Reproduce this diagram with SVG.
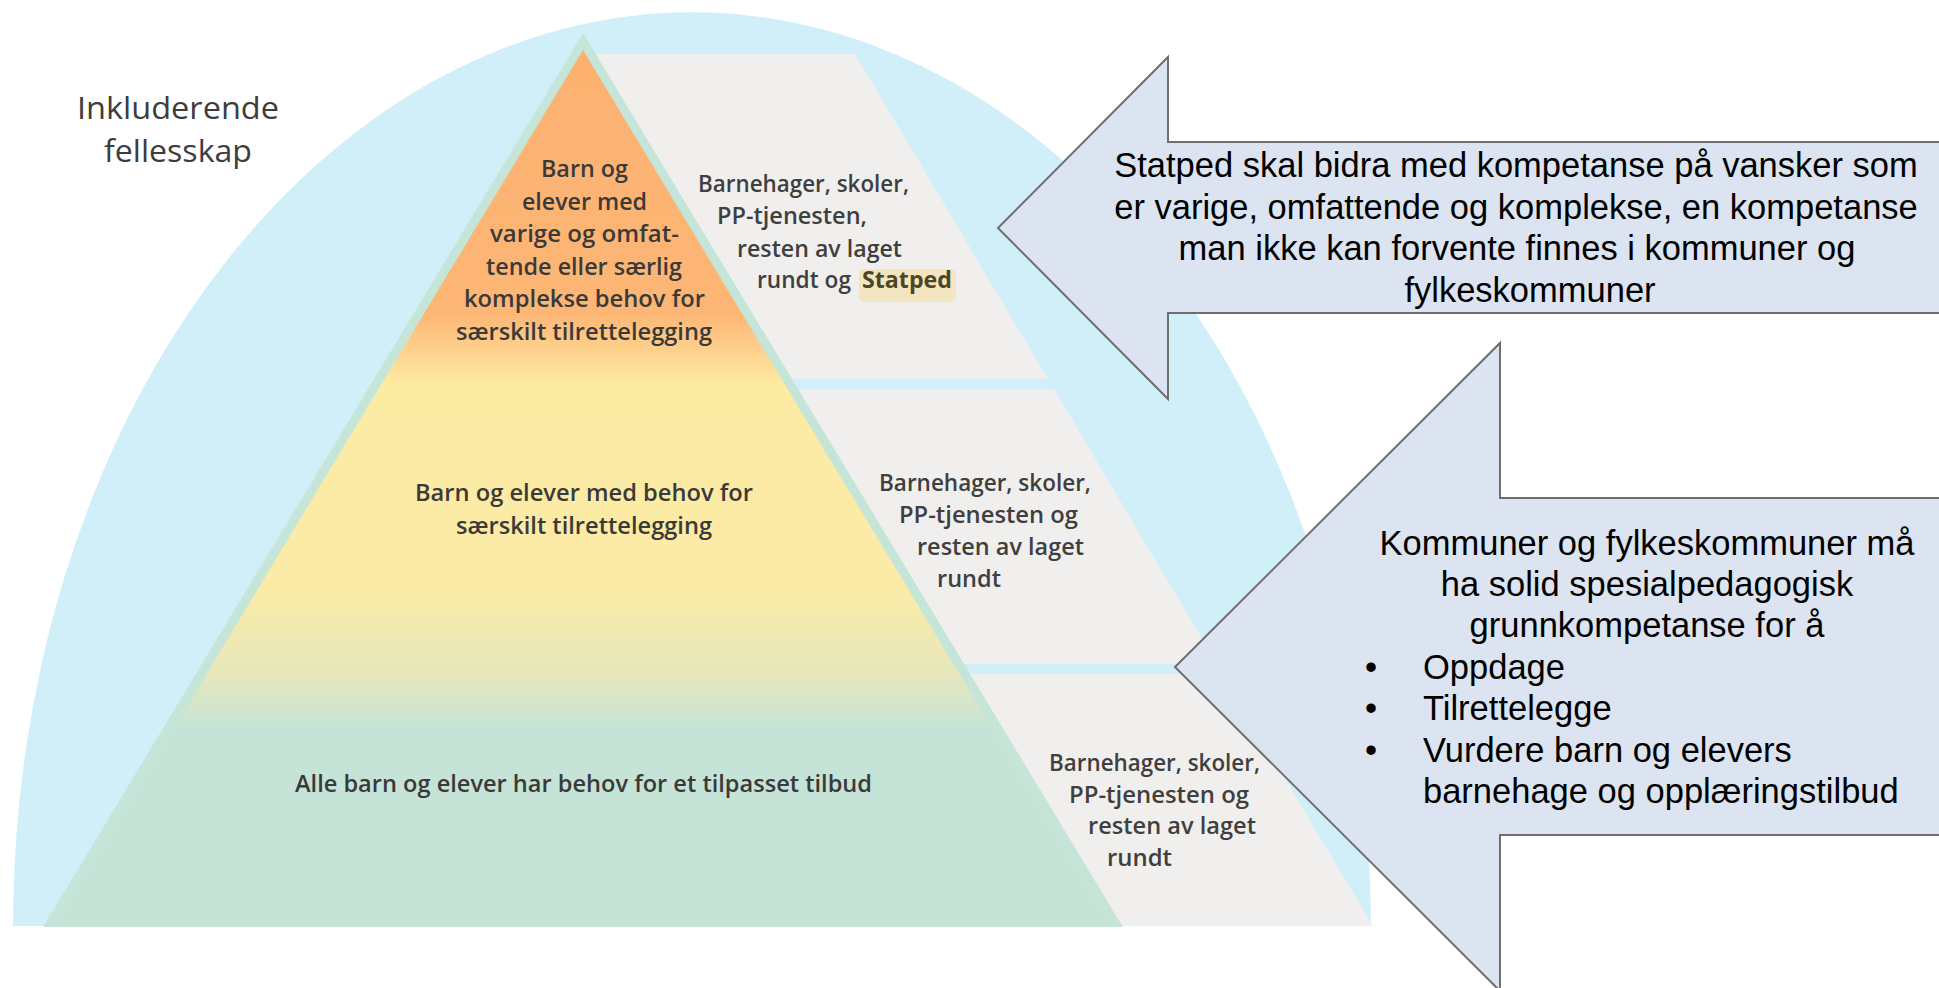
<svg xmlns="http://www.w3.org/2000/svg" width="1939" height="988" viewBox="0 0 1939 988">
<defs>
<linearGradient id="pyrGrad" gradientUnits="userSpaceOnUse" x1="0" y1="50" x2="0" y2="927">
<stop offset="0" stop-color="#fcb171"/>
<stop offset="0.30" stop-color="#fdb675"/>
<stop offset="0.336" stop-color="#fdcd89"/>
<stop offset="0.382" stop-color="#fdeba3"/>
<stop offset="0.616" stop-color="#fbeba7"/>
<stop offset="0.707" stop-color="#e8e7ba"/>
<stop offset="0.775" stop-color="#c5e4d7"/>
<stop offset="1" stop-color="#c5e4d7"/>
</linearGradient>
<style>
.pt{font-family:"Open Sans","Liberation Sans",sans-serif;font-weight:600;font-size:23px;fill:#3a3a3a}
.ct{font-family:"Open Sans","Liberation Sans",sans-serif;font-weight:600;font-size:23px;fill:#3f3f3f}
.title{font-family:"Open Sans","Liberation Sans",sans-serif;font-weight:400;font-size:31px;fill:#3d3d3d}
.at{font-family:"Liberation Sans",Arial,sans-serif;font-size:34.5px;fill:#000}
.gray{fill:#f0efee}
.arrow{fill:#dbe4f0;stroke:#6e6e6e;stroke-width:2}
</style>
</defs>
<rect width="1939" height="988" fill="#ffffff"/>
<g id="background">
<path d="M13,926 A679,914 0 0 1 1371,926 Z" fill="#d0eff9"/>
</g>
<g id="column-top">
<polygon class="gray" points="585,54 855,54 1048,379 785,379"/>
<text class="ct" x="698" y="192" textLength="211" lengthAdjust="spacingAndGlyphs">Barnehager, skoler,</text>
<text class="ct" x="717" y="224" textLength="150" lengthAdjust="spacingAndGlyphs">PP-tjenesten,</text>
<text class="ct" x="737" y="257" textLength="165" lengthAdjust="spacingAndGlyphs">resten av laget</text>
<rect x="859" y="269" width="97" height="33" rx="5" fill="#f3e5bf"/>
<text class="ct" x="757" y="288" textLength="94" lengthAdjust="spacingAndGlyphs">rundt og</text>
<text class="ct" x="862" y="288" textLength="90" lengthAdjust="spacingAndGlyphs" style="font-weight:700;fill:#4d4528">Statped</text>
</g>
<g id="column-middle">
<polygon class="gray" points="790,389 1054,389 1217,664 960,664"/>
<text class="ct" x="879" y="491" textLength="212" lengthAdjust="spacingAndGlyphs">Barnehager, skoler,</text>
<text class="ct" x="899" y="523" textLength="179" lengthAdjust="spacingAndGlyphs">PP-tjenesten og</text>
<text class="ct" x="917" y="555" textLength="167" lengthAdjust="spacingAndGlyphs">resten av laget</text>
<text class="ct" x="937" y="587" textLength="64" lengthAdjust="spacingAndGlyphs">rundt</text>
</g>
<g id="column-bottom">
<polygon class="gray" points="960,674 1223,674 1373,926 1110,926"/>
<text class="ct" x="1049" y="771" textLength="211" lengthAdjust="spacingAndGlyphs">Barnehager, skoler,</text>
<text class="ct" x="1069" y="803" textLength="180" lengthAdjust="spacingAndGlyphs">PP-tjenesten og</text>
<text class="ct" x="1088" y="834" textLength="168" lengthAdjust="spacingAndGlyphs">resten av laget</text>
<text class="ct" x="1107" y="866" textLength="65" lengthAdjust="spacingAndGlyphs">rundt</text>
</g>
<g id="pyramid">
<polygon points="583,33 43,927 1123,927" fill="#c6e5d9"/>
<polygon points="583,50 54,927 1112,927" fill="url(#pyrGrad)"/>
<g id="pyramid-top">
<text class="pt" x="541" y="177" textLength="87" lengthAdjust="spacingAndGlyphs">Barn og</text>
<text class="pt" x="522" y="210" textLength="125" lengthAdjust="spacingAndGlyphs">elever med</text>
<text class="pt" x="490" y="242" textLength="189" lengthAdjust="spacingAndGlyphs">varige og omfat-</text>
<text class="pt" x="486" y="275" textLength="196" lengthAdjust="spacingAndGlyphs">tende eller særlig</text>
<text class="pt" x="464" y="307" textLength="241" lengthAdjust="spacingAndGlyphs">komplekse behov for</text>
<text class="pt" x="456" y="340" textLength="256" lengthAdjust="spacingAndGlyphs">særskilt tilrettelegging</text>
</g>
<g id="pyramid-middle">
<text class="pt" x="415" y="501" textLength="338" lengthAdjust="spacingAndGlyphs">Barn og elever med behov for</text>
<text class="pt" x="456" y="534" textLength="256" lengthAdjust="spacingAndGlyphs">særskilt tilrettelegging</text>
</g>
<g id="pyramid-bottom">
<text class="pt" x="295" y="792" textLength="577" lengthAdjust="spacingAndGlyphs">Alle barn og elever har behov for et tilpasset tilbud</text>
</g>
</g>
<g id="title">
<text class="title" x="77" y="119" textLength="202" lengthAdjust="spacingAndGlyphs">Inkluderende</text>
<text class="title" x="104" y="162" textLength="148" lengthAdjust="spacingAndGlyphs">fellesskap</text>
</g>
<g id="arrow-statped">
<polygon class="arrow" points="1945,142 1168,142 1168,57 998,228 1168,399 1168,313 1945,313"/>
<text class="at" text-anchor="middle" x="1516" y="177">Statped skal bidra med kompetanse på vansker som</text>
<text class="at" text-anchor="middle" x="1516" y="219">er varige, omfattende og komplekse, en kompetanse</text>
<text class="at" text-anchor="middle" x="1517" y="260">man ikke kan forvente finnes i kommuner og</text>
<text class="at" text-anchor="middle" x="1530" y="302">fylkeskommuner</text>
</g>
<g id="arrow-kommuner">
<polygon class="arrow" points="1945,498 1500,498 1500,343 1175,667 1500,991 1500,835 1945,835"/>
<text class="at" text-anchor="middle" x="1647" y="555">Kommuner og fylkeskommuner må</text>
<text class="at" text-anchor="middle" x="1647" y="596">ha solid spesialpedagogisk</text>
<text class="at" text-anchor="middle" x="1647" y="637">grunnkompetanse for å</text>
<text class="at" x="1365" y="679">•</text>
<text class="at" x="1423" y="679">Oppdage</text>
<text class="at" x="1365" y="720">•</text>
<text class="at" x="1423" y="720">Tilrettelegge</text>
<text class="at" x="1365" y="762">•</text>
<text class="at" x="1423" y="762">Vurdere barn og elevers</text>
<text class="at" x="1423" y="803">barnehage og opplæringstilbud</text>
</g>
<g id="connectors"/>
</svg>
